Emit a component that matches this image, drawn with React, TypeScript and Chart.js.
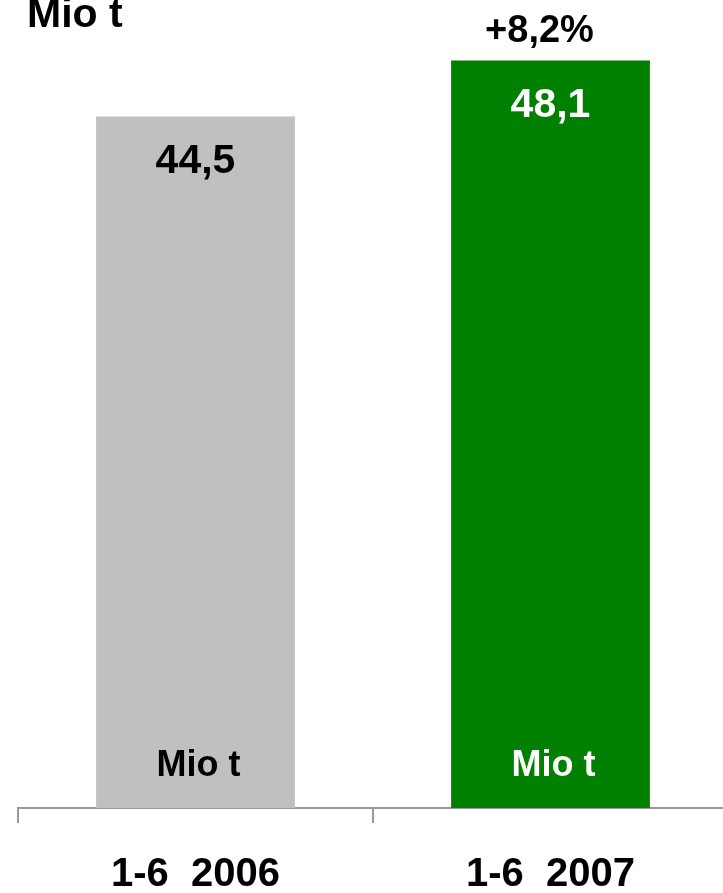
import React, { useEffect, useRef } from "react";
import { Chart, registerables } from "chart.js";

Chart.register(...registerables);

const categories = ["1-6  2006", "1-6  2007"];
const values = [44.5, 48.1];
const valueLabels = ["44,5", "48,1"];
const barColors = ["#C0C0C0", "#008000"];
const valueTextColors = ["#000000", "#FFFFFF"];
const unitLabel = "Mio t";
const changeLabel = "+8,2%";

const FONT = '"Liberation Sans", Arial, sans-serif';

const labelPlugin = {
  id: "barLabels",
  afterDatasetsDraw(chart: any) {
    const ctx = chart.ctx;
    const meta = chart.getDatasetMeta(0);
    ctx.save();
    ctx.textAlign = "center";
    ctx.textBaseline = "alphabetic";
    meta.data.forEach((bar: any, i: number) => {
      const { x, y, base } = bar.getProps(["x", "y", "base"], true);
      ctx.fillStyle = valueTextColors[i];
      ctx.font = `bold 41px ${FONT}`;
      ctx.fillText(valueLabels[i], x, y + 56);
      ctx.font = `bold 36px ${FONT}`;
      ctx.fillText(unitLabel, x + 3, base - 32);
      if (i === meta.data.length - 1) {
        ctx.fillStyle = "#000000";
        ctx.font = `bold 38px ${FONT}`;
        ctx.fillText(changeLabel, x - 11, y - 19);
      }
    });
    ctx.textAlign = "left";
    ctx.fillStyle = "#000000";
    ctx.font = `bold 41px ${FONT}`;
    ctx.fillText(unitLabel, chart.chartArea.left + 9, 27);
    ctx.restore();
  },
};

export default function App() {
  const ref = useRef<HTMLCanvasElement>(null);
  useEffect(() => {
    if (!ref.current) return;
    const chart = new Chart(ref.current, {
      type: "bar",
      data: {
        labels: categories,
        datasets: [
          {
            data: values,
            backgroundColor: barColors,
            borderWidth: 0,
            barPercentage: 0.56,
            categoryPercentage: 1,
          },
        ],
      },
      options: {
        responsive: false,
        animation: false,
        devicePixelRatio: 1,
        layout: { padding: { left: 18, right: 0, top: 0, bottom: 0 } },
        plugins: { legend: { display: false }, tooltip: { enabled: false } },
        scales: {
          x: {
            grid: {
              display: true,
              drawOnChartArea: false,
              drawTicks: true,
              tickLength: 15,
              color: "#999999",
              lineWidth: 2,
              offset: true,
            },
            border: { display: true, color: "#999999", width: 2 },
            ticks: {
              color: "#000000",
              font: { family: FONT, size: 40, weight: "bold" },
              padding: 28,
              maxRotation: 0,
            },
            afterFit(scale: any) {
              scale.height = 85;
            },
          },
          y: {
            display: false,
            min: 0,
            max: 52,
          },
        },
      },
      plugins: [labelPlugin],
    } as any);
    return () => chart.destroy();
  }, []);
  return (
    <div
      style={{
        position: "fixed",
        left: 0,
        top: 0,
        width: 723,
        height: 893,
        overflow: "hidden",
        background: "#ffffff",
      }}
    >
      <canvas ref={ref} width={728} height={893} style={{ display: "block" }} />
    </div>
  );
}
